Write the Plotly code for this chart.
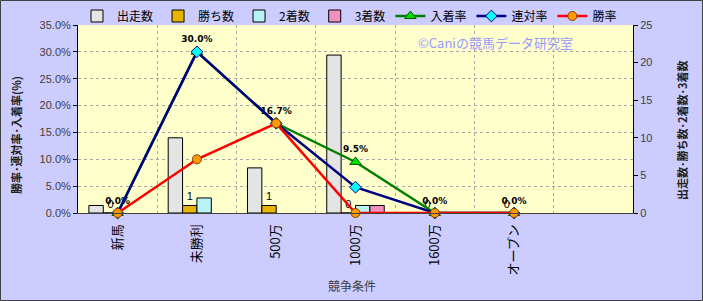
import plotly.graph_objects as go

categories = ["新馬", "未勝利", "500万", "1000万", "1600万", "オープン", " "]
starts = [1, 10, 6, 21, 0, 0, None]
wins = [0, 1, 1, 0, 0, 0, None]
seconds = [0, 2, 0, 1, 0, 0, None]
thirds = [0, 0, 0, 1, 0, 0, None]
win_rate = [0.0, 0.100, 0.167, 0.0, 0.0, 0.0, None]
rentai_rate = [0.0, 0.300, 0.167, 0.048, 0.0, 0.0, None]
place_rate = [0.0, 0.300, 0.167, 0.095, 0.0, 0.0, None]
place_labels = ["0.0%", "30.0%", "16.7%", "9.5%", "0.0%", "0.0%", ""]

W, H = 703, 301
L, R, T, B = 78, 70, 25, 88
PW, PH = W - L - R, H - T - B

def px(x):
    return (x - L) / PW

def py(y):
    return (H - B - y) / PH

JP = "Noto Sans CJK JP"
NUM = "Liberation Sans, Noto Sans CJK JP"

fig = go.Figure()

bar_specs = [
    ("出走数", starts, "#E4E4E4", False),
    ("勝ち数", wins, "#E8B400", True),
    ("2着数", seconds, "#B8F4F4", False),
    ("3着数", thirds, "#F090C0", False),
]
for name, vals, col, labelled in bar_specs:
    # zero-height bars are not drawn (only the labelled series keeps its zero labels)
    shown = vals if labelled else [None if (v is None or v == 0) else v for v in vals]
    fig.add_trace(go.Bar(
        x=categories, y=shown, name=name, yaxis="y",
        marker=dict(color=col, line=dict(color="#000000", width=1)),
        text=[("" if v is None else str(v)) for v in vals] if labelled else None,
        textposition="outside" if labelled else None,
        textfont=dict(size=11, color="#000000", family=NUM),
        cliponaxis=False,
    ))

fig.add_trace(go.Scatter(
    x=categories, y=place_rate, name="入着率", yaxis="y2",
    mode="lines+markers+text",
    line=dict(color="#008000", width=2.5),
    marker=dict(symbol="triangle-up", size=10, color="#00DD00",
                line=dict(color="#006000", width=1)),
    text=place_labels, textposition="top center",
    textfont=dict(size=9, color="#000000", family="DejaVu Sans", weight="bold"),
    cliponaxis=False,
))
fig.add_trace(go.Scatter(
    x=categories, y=rentai_rate, name="連対率", yaxis="y2",
    mode="lines+markers",
    line=dict(color="#000080", width=2.5),
    marker=dict(symbol="diamond", size=9, color="#00FFFF",
                line=dict(color="#000080", width=1)),
    cliponaxis=False,
))
fig.add_trace(go.Scatter(
    x=categories, y=win_rate, name="勝率", yaxis="y2",
    mode="lines+markers",
    line=dict(color="#FF0000", width=2.5),
    marker=dict(symbol="circle", size=9, color="#FF9900",
                line=dict(color="#804000", width=1)),
    cliponaxis=False,
))

fig.update_layout(
    width=W, height=H,
    margin=dict(l=L, r=R, t=T, b=B, autoexpand=False),
    paper_bgcolor="#CCCCFF",
    plot_bgcolor="#FFFFCC",
    font=dict(family=JP, size=12, color="#000000"),
    barmode="group", bargap=0.275, bargroupgap=0,
    showlegend=True,
    legend=dict(orientation="h", xref="container", yref="container",
                x=77 / W, y=1 - 16 / H, xanchor="left", yanchor="middle",
                bgcolor="rgba(0,0,0,0)", font=dict(size=12, family=JP),
                itemwidth=30, tracegroupgap=0, traceorder="normal"),
    xaxis=dict(
        type="category", tickson="boundaries", range=[-0.5, 6.5],
        showgrid=True, gridcolor="#A8A8A8", griddash="dot", gridwidth=1,
        showline=True, linecolor="#404040", linewidth=1,
        ticks="", tickangle=-90, ticklabelstandoff=5,
        tickfont=dict(size=13, family=JP, color="#000000"),
    ),
    yaxis=dict(
        side="right", range=[0, 25], dtick=5, showgrid=False,
        showline=True, linecolor="#000000", linewidth=1,
        ticks="outside", ticklen=4, tickcolor="#000000",
        tickfont=dict(size=11, family=NUM, color="#404040"),
        zeroline=False,
    ),
    yaxis2=dict(
        side="left", overlaying="y", range=[0, 0.35], dtick=0.05,
        tickformat=".1%", showgrid=True, gridcolor="#A8A8A8", griddash="dot",
        showline=True, linecolor="#000000", linewidth=1,
        ticks="outside", ticklen=4, tickcolor="#000000",
        tickfont=dict(size=11, family=NUM, color="#404040"),
        zeroline=False,
    ),
    annotations=[
        dict(text="<b>勝率･連対率･入着率(%)</b>", x=px(16), y=py(135),
             xref="paper", yref="paper", textangle=-90, showarrow=False,
             xanchor="center", yanchor="middle",
             font=dict(size=11, family=JP, color="#202020")),
        dict(text="<b>出走数･勝ち数･2着数･3着数</b>", x=px(682), y=py(131),
             xref="paper", yref="paper", textangle=-90, showarrow=False,
             xanchor="center", yanchor="middle",
             font=dict(size=11, family=JP, color="#202020")),
        dict(text="競争条件", x=px(352), y=py(285),
             xref="paper", yref="paper", showarrow=False,
             xanchor="center", yanchor="middle",
             font=dict(size=12, family=JP, color="#404040")),
        dict(text="©Caniの競馬データ研究室", x=px(495), y=py(43),
             xref="paper", yref="paper", showarrow=False,
             xanchor="center", yanchor="middle",
             font=dict(size=13, family=JP, color="#9999FF")),
    ],
    shapes=[
        dict(type="rect", xref="paper", yref="paper",
             x0=px(0.5), x1=px(W - 0.5), y0=py(H - 0.5), y1=py(0.5),
             line=dict(color="#404040", width=1), fillcolor="rgba(0,0,0,0)",
             layer="above"),
    ],
)

fig.write_html("out.html")
